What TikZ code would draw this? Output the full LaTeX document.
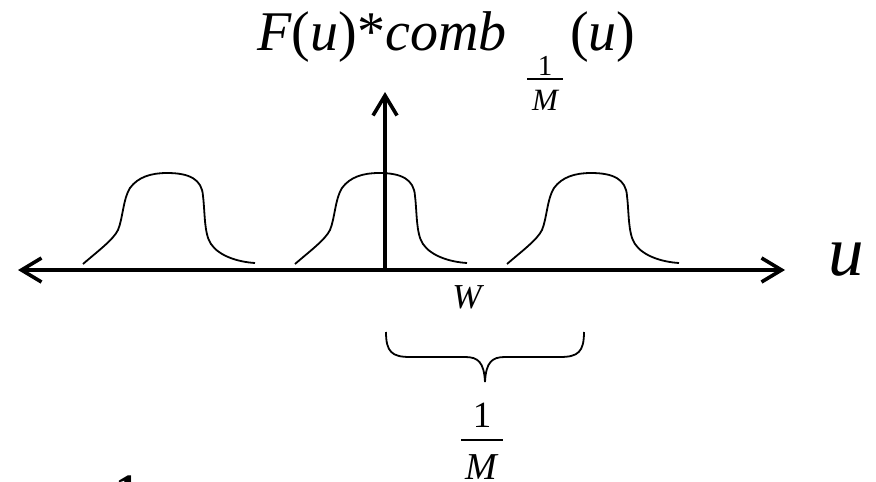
\documentclass[tikz,border=0pt]{standalone}
\usepackage{fontspec}
\setmainfont{Liberation Serif}
\usetikzlibrary{arrows.meta}

\begin{document}
\begin{tikzpicture}
 [x=1pt, y=-1pt,
  barb/.tip={Straight Barb[length=20pt,width=24pt]},
  axis line/.style={line width=3.6pt},
  bump line/.style={line width=1.8pt},
  bar line/.style={line width=1.6pt},
  lbl node/.style={inner sep=0pt, anchor=base}]

\useasboundingbox (0,0) rectangle (876,482);

% axes
\coordinate (o) at (385,270);
\coordinate (left end) at (18,270);
\coordinate (right end) at (785,270);
\coordinate (top end) at (385,92);
\draw[axis line, barb-barb] (left end) -- (right end);
\draw[axis line, -barb] (o) -- (top end);

% the three copies of F(u)
\foreach \s in {83,295,507}
{
 \begin{scope}[shift={(\s,264)}]
  \draw[bump line] (0,0) .. controls (15,-13) and (30,-24) .. (35,-34)
     .. controls (40,-46) and (40,-65) .. (47,-76)
     .. controls (55,-87) and (68,-91) .. (84,-91)
     .. controls (106,-91) and (119,-85) .. (120,-68)
     .. controls (122,-52) and (121,-30) .. (128,-20)
     .. controls (136,-8) and (155,-2) .. (172,-1);
 \end{scope}
}

% title
\node[lbl node, anchor=base west, font=\fontsize{56}{56}\selectfont] (title) at (257,50) {\textit{F}(\textit{u})*\textit{comb}};
\node[lbl node, font=\fontsize{29}{29}\selectfont] (sub num) at (545,75) {1};
\node[lbl node, font=\itshape\fontsize{31}{31}\selectfont] (sub den) at (545,110) {M};
\draw[bar line] (527,79) -- (563,79);
\node[lbl node, anchor=base west, font=\fontsize{56}{56}\selectfont] (title end) at (570,50) {(\textit{u})};

% labels on the axis
\node[lbl node, anchor=base west, font=\itshape\fontsize{71}{71}\selectfont] (u) at (828,275) {u};
\node[lbl node, font=\itshape\fontsize{35}{35}\selectfont] (w) at (467,308) {W};

% brace for the period
\draw[bump line] (386,332) .. controls (386,352) and (392,357) .. (410,357) -- (465,357)
   .. controls (478,357) and (484,362) .. (485,382)
   .. controls (486,362) and (492,357) .. (505,357) -- (560,357)
   .. controls (578,357) and (584,352) .. (584,332);
\node[lbl node, font=\fontsize{37}{37}\selectfont] (per num) at (482,427) {1};
\draw[bar line] (461,440) -- (503,440);
\node[lbl node, font=\itshape\fontsize{38}{38}\selectfont] (per den) at (481,479) {M};

\node[inner sep=0pt, anchor=north, font=\bfseries\fontsize{48}{48}\selectfont] (one) at (127,476) {1};

\end{tikzpicture}
\end{document}
